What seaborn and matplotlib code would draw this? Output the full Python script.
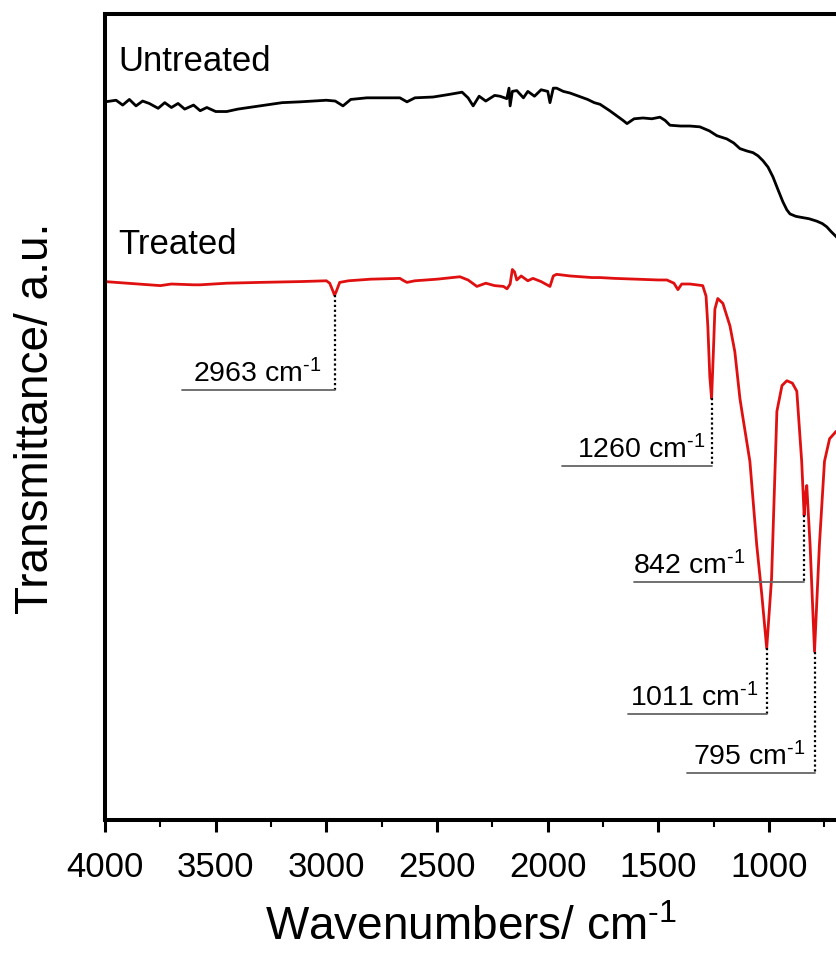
import numpy as np
import pandas as pd
import seaborn as sns
import matplotlib.pyplot as plt
from matplotlib.ticker import MultipleLocator

# --- data (wavenumber in cm-1, transmittance in a.u.) ---
wn_untreated = [4000, 3950, 3920, 3890, 3860, 3830, 3800, 3760, 3730, 3700, 3670, 3640,
                3600, 3570, 3540, 3500, 3450, 3400, 3300, 3200, 3120, 3000, 2960, 2925,
                2890, 2817, 2700, 2668, 2636, 2600, 2518, 2450, 2387, 2360, 2337, 2310,
                2280, 2240, 2216, 2185, 2175, 2170, 2160, 2140, 2110, 2090, 2060, 2030,
                2000, 1990, 1975, 1960, 1930, 1900, 1860, 1820, 1790, 1764, 1720, 1680,
                1660, 1642, 1610, 1570, 1530, 1493, 1470, 1448, 1400, 1358, 1313, 1270,
                1236, 1191, 1160, 1132, 1100, 1073, 1050, 1028, 1005, 983, 960, 938,
                920, 906, 880, 861, 820, 785, 760, 740, 720, 698, 690]
t_untreated = [89.1, 89.3, 88.7, 89.4, 88.6, 89.2, 88.9, 88.3, 89.0, 88.4, 88.9, 88.2,
               88.7, 88.0, 88.4, 87.9, 87.9, 88.2, 88.6, 89.0, 89.1, 89.3, 89.2, 88.6,
               89.4, 89.6, 89.6, 89.6, 89.1, 89.6, 89.7, 90.0, 90.3, 89.6, 88.6, 89.8,
               89.2, 89.9, 89.8, 89.5, 90.8, 88.6, 90.4, 90.5, 89.6, 90.4, 89.8, 90.6,
               90.4, 89.0, 90.8, 90.8, 90.4, 90.2, 89.8, 89.4, 89.0, 88.8, 88.0, 87.2,
               86.8, 86.4, 87.0, 87.1, 87.0, 87.2, 86.8, 86.2, 86.1, 86.1, 86.0, 85.5,
               84.9, 84.5, 84.0, 83.3, 83.0, 82.8, 82.4, 81.8, 81.0, 79.8, 78.2, 76.7,
               75.7, 75.2, 74.9, 74.8, 74.6, 74.3, 74.0, 73.6, 73.0, 72.4, 72.2]

wn_treated = [4000, 3900, 3800, 3750, 3700, 3600, 3570, 3450, 3300, 3120, 3000, 2985,
              2970, 2963, 2955, 2940, 2900, 2800, 2668, 2650, 2636, 2600, 2500, 2397,
              2360, 2320, 2280, 2240, 2200, 2184, 2170, 2160, 2150, 2140, 2120, 2090,
              2067, 2030, 1990, 1975, 1960, 1900, 1800, 1764, 1700, 1600, 1500, 1462,
              1430, 1412, 1395, 1358, 1300, 1285, 1277, 1268, 1260, 1252, 1245, 1232,
              1209, 1177, 1155, 1132, 1123, 1087, 1056, 1033, 1011, 989, 965, 942,
              920, 895, 875, 853, 842, 835, 830, 825, 815, 795, 773, 750, 727, 698, 690]
t_treated = [66.8, 66.6, 66.4, 66.3, 66.5, 66.4, 66.4, 66.6, 66.7, 66.8, 66.9, 66.6,
             65.6, 65.1, 65.6, 66.7, 66.9, 67.1, 67.2, 66.9, 66.7, 66.9, 67.1, 67.4,
             67.0, 66.2, 66.6, 66.3, 66.2, 65.9, 66.5, 68.3, 68.0, 67.0, 67.5, 66.9,
             67.2, 66.8, 66.2, 67.5, 67.7, 67.5, 67.3, 67.3, 67.2, 67.1, 67.0, 67.0,
             66.6, 65.8, 66.5, 66.5, 66.3, 65.0, 61.3, 55.0, 52.3, 58.0, 63.4, 64.7,
             64.1, 61.3, 58.1, 52.3, 50.7, 44.5, 34.1, 27.9, 21.3, 30.0, 50.7, 53.9,
             54.5, 54.2, 53.2, 44.5, 37.8, 40.5, 41.5, 39.0, 34.1, 20.9, 34.1, 44.5,
             47.3, 48.2, 48.3]

peaks = [2963, 1260, 842, 1011, 795]
unit = r"cm$^{\mathrm{‐1}}$"   # short hyphen in the superscript, as in the original
peak_labels = [f"{p} {unit}" for p in peaks]

# annotation layout: (left end of underline, text x, underline height)
label_layout = [(3652, 3603, 53.3), (1936, 1868, 43.9), (1611, 1615, 29.5),
                (1638, 1629, 13.1), (1371, 1344, 5.8)]

df = pd.concat([
    pd.DataFrame({"wn": wn_untreated, "T": t_untreated, "sample": "Untreated"}),
    pd.DataFrame({"wn": wn_treated, "T": t_treated, "sample": "Treated"}),
])

sns.set_theme(style="ticks")
plt.rcParams["font.family"] = ["Liberation Sans", "DejaVu Sans"]
plt.rcParams.update({"text.color": "black", "axes.labelcolor": "black",
                     "xtick.color": "black", "axes.edgecolor": "black",
                     "mathtext.fontset": "custom",
                     "mathtext.rm": "Liberation Sans",
                     "mathtext.it": "Liberation Sans:italic",
                     "mathtext.bf": "Liberation Sans:bold"})

fig = plt.figure(figsize=(8.36, 9.54), dpi=100)
ax = fig.add_axes([105 / 836, 133 / 954, 731 / 836, 806 / 954])

sns.lineplot(data=df, x="wn", y="T", hue="sample",
             palette={"Untreated": "black", "Treated": "#e01010"},
             linewidth=2.0, legend=False, sort=False, ax=ax)

ax.set_xlim(4000, 698)
ax.set_ylim(0, 100)

# peak markers
for wn, lab, (x0, xt, yl) in zip(peaks, peak_labels, label_layout):
    ypk = np.interp(wn, wn_treated[::-1], t_treated[::-1])
    ax.plot([wn, wn], [ypk, yl], color="black", ls=(0, (1, 1.2)), lw=1.6)
    ax.plot([x0, wn], [yl, yl], color="#666666", lw=1.3)
    ax.text(xt, yl + 1.1, lab, fontsize=20.5, ha="left", va="baseline")

ax.text(3941, 93.0, "Untreated", fontsize=25, va="baseline")
ax.text(3941, 70.3, "Treated", fontsize=25, va="baseline")

ax.xaxis.set_major_locator(MultipleLocator(500))
ax.xaxis.set_minor_locator(MultipleLocator(250))
ax.set_yticks([])
ax.tick_params(axis="x", which="major", length=8.5, width=2.2, labelsize=25, pad=13)
ax.tick_params(axis="x", which="minor", length=5, width=1.5)

for side in ["left", "bottom", "top"]:
    ax.spines[side].set_linewidth(2.9)
ax.spines["right"].set_visible(False)

ax.set_xlabel(f"Wavenumbers/ {unit}", fontsize=33)
ax.xaxis.set_label_coords(0.5, -0.106)
ax.set_ylabel("Transmittance/ a.u.", fontsize=33, labelpad=34)

plt.savefig("out.png", dpi=100)
